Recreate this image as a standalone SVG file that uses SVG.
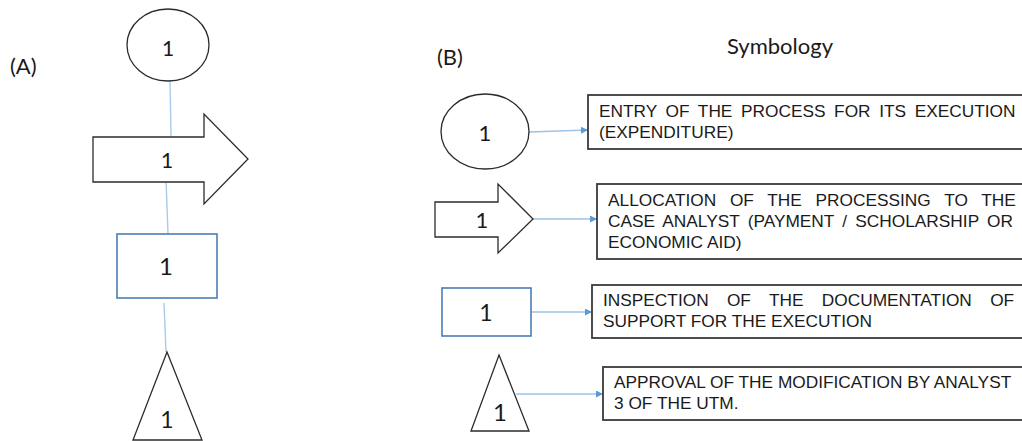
<svg xmlns="http://www.w3.org/2000/svg" width="1022" height="441" viewBox="0 0 1022 441">
  <defs>
    <style>
      .shape { fill: #ffffff; stroke: #2b2b2b; stroke-width: 1.3; }
      .blue { fill: #ffffff; stroke: #4a7db5; stroke-width: 1.6; }
      .box { fill: #ffffff; stroke: #3a3a3a; stroke-width: 1.8; }
      .num { font-family: Lato, "Open Sans", "DejaVu Sans", sans-serif; fill: #1a1a1a; text-anchor: middle; }
      .title { font-family: Lato, "Open Sans", "DejaVu Sans", sans-serif; fill: #1a1a1a; font-size: 22px; }
      .desc { font-family: "Liberation Sans", Arial, sans-serif; font-size: 17.3px; fill: #1a1a1a; }
      .link { stroke: #a9cbe9; stroke-width: 1.4; fill: none; }
      .arrowed { stroke: #9cc3e6; stroke-width: 1.4; fill: none; marker-end: url(#tip); }
    </style>
    <marker id="tip" viewBox="0 0 10 10" refX="10" refY="5" markerWidth="7" markerHeight="7" markerUnits="userSpaceOnUse" orient="auto">
      <path d="M0,0 L10,5 L0,10 z" fill="#5b9bd5"/>
    </marker>
  </defs>

  <rect width="1022" height="441" fill="#ffffff"/>

  <!-- panel labels -->
  <text class="title" x="10" y="74">(A)</text>
  <text class="title" x="437" y="65">(B)</text>
  <text class="title" x="727" y="54" font-size="24">Symbology</text>

  <!-- connectors -->
  <g id="connectors">
    <line class="link" x1="170" y1="81" x2="171" y2="136"/>
    <line class="link" x1="166" y1="179" x2="168" y2="234"/>
    <line class="link" x1="164" y1="303" x2="166" y2="352"/>
    <line class="arrowed" x1="529" y1="132" x2="588" y2="130"/>
    <line class="arrowed" x1="533" y1="219" x2="597" y2="219"/>
    <line class="arrowed" x1="531" y1="312" x2="592" y2="312"/>
    <line class="arrowed" x1="516" y1="394" x2="603" y2="394"/>
  </g>

  <!-- panel A: flow -->
  <g id="a-entry">
    <ellipse class="shape" cx="168" cy="45" rx="41" ry="36"/>
    <text class="num" x="168" y="56" font-size="21">1</text>
  </g>
  <g id="a-allocation">
    <path class="shape" d="M93,137 L204,137 L204,114 L248,159 L204,204 L204,182 L93,182 Z"/>
    <text class="num" x="167" y="168" font-size="21">1</text>
  </g>
  <g id="a-inspection">
    <rect class="blue" x="117" y="234" width="100" height="64"/>
    <text class="num" x="166" y="275" font-size="24">1</text>
  </g>
  <g id="a-approval">
    <path class="shape" d="M167,352 L202,440 L133,440 Z"/>
    <text class="num" x="167" y="428" font-size="23">1</text>
  </g>

  <!-- panel B: symbology -->
  <g id="b-entry">
    <ellipse class="shape" cx="485" cy="131.5" rx="44" ry="37.5"/>
    <text class="num" x="485" y="141" font-size="22">1</text>
  </g>
  <g id="b-entry-text">
    <rect class="box" x="588" y="95" width="450" height="54"/>
    <text class="desc" x="599" y="117" word-spacing="3.8">ENTRY OF THE PROCESS FOR ITS EXECUTION</text>
    <text class="desc" x="599" y="138">(EXPENDITURE)</text>
  </g>

  <g id="b-allocation">
    <path class="shape" d="M435,202 L498,202 L498,184 L533,219 L498,253 L498,237 L435,237 Z"/>
    <text class="num" x="482" y="228" font-size="22">1</text>
  </g>
  <g id="b-allocation-text">
    <rect class="box" x="597" y="184" width="450" height="75"/>
    <text class="desc" x="608" y="206" word-spacing="8.9">ALLOCATION OF THE PROCESSING TO THE</text>
    <text class="desc" x="608" y="227" word-spacing="3.4">CASE ANALYST (PAYMENT / SCHOLARSHIP OR</text>
    <text class="desc" x="608" y="248">ECONOMIC AID)</text>
  </g>

  <g id="b-inspection">
    <rect class="blue" x="442" y="288" width="89" height="48"/>
    <text class="num" x="486" y="321" font-size="23">1</text>
  </g>
  <g id="b-inspection-text">
    <rect class="box" x="592" y="285" width="450" height="53"/>
    <text class="desc" x="603" y="306" word-spacing="13.5">INSPECTION OF THE DOCUMENTATION OF</text>
    <text class="desc" x="603" y="327">SUPPORT FOR THE EXECUTION</text>
  </g>

  <g id="b-approval">
    <path class="shape" d="M499,355 L529,431 L471,431 Z"/>
    <text class="num" x="500" y="421" font-size="24">1</text>
  </g>
  <g id="b-approval-text">
    <rect class="box" x="603" y="367" width="450" height="53"/>
    <text class="desc" x="614" y="388">APPROVAL OF THE MODIFICATION BY ANALYST</text>
    <text class="desc" x="614" y="409">3 OF THE UTM.</text>
  </g>
</svg>
